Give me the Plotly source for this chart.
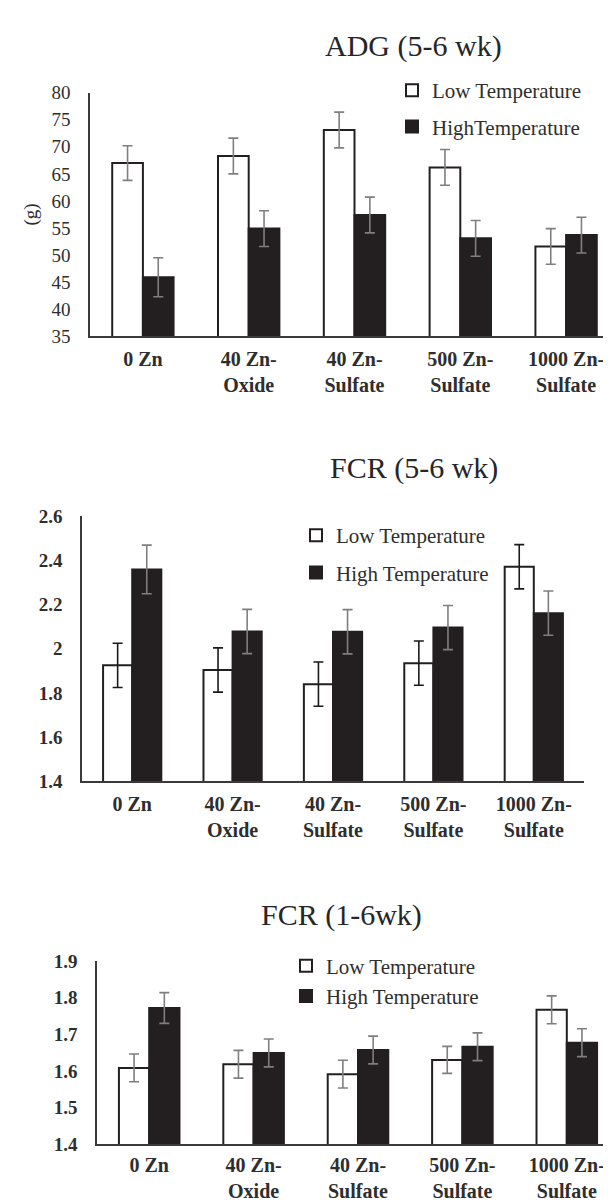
import plotly.graph_objects as go

W, H = 611, 1200

CATEGORIES = ["0 Zn", "40 Zn-Oxide", "40 Zn-Sulfate", "500 Zn-Sulfate", "1000 Zn-Sulfate"]
TICK_LABELS = ["0 Zn", "40 Zn-<br>Oxide", "40 Zn-<br>Sulfate", "500 Zn-<br>Sulfate", "1000 Zn-<br>Sulfate"]

# ADG (5-6 wk), g
ADG_LOW = [67.0, 68.3, 73.1, 66.2, 51.6]
ADG_LOW_ERR = [3.2, 3.3, 3.3, 3.3, 3.3]
ADG_HIGH = [45.9, 54.9, 57.4, 53.1, 53.7]
ADG_HIGH_ERR = [3.6, 3.3, 3.3, 3.3, 3.3]

# FCR (5-6 wk)
FCR56_LOW = [1.925, 1.904, 1.840, 1.935, 2.371]
FCR56_LOW_ERR = [0.10, 0.10, 0.10, 0.10, 0.10]
FCR56_HIGH = [2.359, 2.078, 2.077, 2.096, 2.161]
FCR56_HIGH_ERR = [0.11, 0.10, 0.10, 0.10, 0.10]

# FCR (1-6 wk)
FCR16_LOW = [1.608, 1.618, 1.591, 1.630, 1.767]
FCR16_LOW_ERR = [0.038, 0.038, 0.038, 0.037, 0.038]
FCR16_HIGH = [1.772, 1.649, 1.657, 1.666, 1.677]
FCR16_HIGH_ERR = [0.042, 0.038, 0.038, 0.038, 0.038]

SERIF = "Liberation Serif"
TXT = "#2e2e2e"
DARK = "#231f20"
GREY_ERR = "#7f7f7f"


def px_x(p):
    return p / W


def px_y(p):
    return 1 - p / H


fig = go.Figure()

charts = [
    dict(ax="", low=ADG_LOW, lerr=ADG_LOW_ERR, high=ADG_HIGH, herr=ADG_HIGH_ERR,
         low_name="Low Temperature", high_name="HighTemperature", legend="legend",
         lowerr_color=GREY_ERR),
    dict(ax="2", low=FCR56_LOW, lerr=FCR56_LOW_ERR, high=FCR56_HIGH, herr=FCR56_HIGH_ERR,
         low_name="Low Temperature", high_name="High Temperature", legend="legend2",
         lowerr_color="#1a1a1a"),
    dict(ax="3", low=FCR16_LOW, lerr=FCR16_LOW_ERR, high=FCR16_HIGH, herr=FCR16_HIGH_ERR,
         low_name="Low Temperature", high_name="High Temperature", legend="legend3",
         lowerr_color=GREY_ERR),
]

for i, c in enumerate(charts):
    fig.add_trace(go.Bar(
        x=CATEGORIES, y=c["low"], name=c["low_name"],
        xaxis="x" + c["ax"], yaxis="y" + c["ax"], legend=c["legend"],
        legendgroup="low%d" % i,
        marker=dict(color="white", line=dict(color=DARK, width=2)),
        error_y=dict(type="data", array=c["lerr"], visible=True,
                     color=c["lowerr_color"], thickness=1.6, width=5),
    ))
    fig.add_trace(go.Bar(
        x=CATEGORIES, y=c["high"], name=c["high_name"],
        xaxis="x" + c["ax"], yaxis="y" + c["ax"], legend=c["legend"],
        legendgroup="high%d" % i,
        marker=dict(color=DARK, line=dict(color=DARK, width=2)),
        error_y=dict(type="data", array=c["herr"], visible=True,
                     color=GREY_ERR, thickness=1.6, width=5),
    ))

xcommon = dict(
    type="category", showline=True, linecolor="#3a3a3a", linewidth=1.6,
    showgrid=False, zeroline=False, ticks="outside", ticklen=4,
    tickcolor="rgba(0,0,0,0)", tickvals=CATEGORIES, ticktext=TICK_LABELS,
    tickfont=dict(family=SERIF, size=20, color=TXT, weight="bold"),
    fixedrange=True,
)
ycommon = dict(
    showline=True, linecolor="#3a3a3a", linewidth=1.6, showgrid=False,
    zeroline=False, ticks="outside", ticklen=14, tickcolor="rgba(0,0,0,0)",
    fixedrange=True,
)

layout = dict(
    width=W, height=H, margin=dict(l=0, r=0, t=0, b=0),
    paper_bgcolor="white", plot_bgcolor="white",
    barmode="group", bargap=0.42, bargroupgap=0,
    font=dict(family=SERIF, color=TXT),
)

# Chart 1: ADG
layout["xaxis"] = dict(xcommon, domain=[px_x(82), 1], anchor="y")
layout["yaxis"] = dict(ycommon, domain=[px_y(324), px_y(76)], anchor="x",
                       range=[35, 80], dtick=5,
                       tickfont=dict(family=SERIF, size=19, color=TXT))
# Chart 2: FCR 5-6
layout["xaxis2"] = dict(xcommon, domain=[px_x(74), px_x(576)], anchor="y2")
layout["yaxis2"] = dict(ycommon, domain=[px_y(777), px_y(507)], anchor="x2",
                        range=[1.4, 2.6], dtick=0.2,
                        tickfont=dict(family=SERIF, size=19, color=TXT, weight="bold"))
# Chart 3: FCR 1-6
layout["xaxis3"] = dict(xcommon, domain=[px_x(89), 1], anchor="y3", ticklen=2)
layout["yaxis3"] = dict(ycommon, domain=[px_y(1146), px_y(960)], anchor="x3",
                        range=[1.4, 1.9], dtick=0.1,
                        tickfont=dict(family=SERIF, size=19, color=TXT, weight="bold"))

legfont = dict(family=SERIF, size=21, color=TXT)
layout["legend"] = dict(x=px_x(384), y=px_y(53), xanchor="left", yanchor="top",
                        font=legfont, bgcolor="rgba(0,0,0,0)", traceorder="grouped",
                        tracegroupgap=6)
layout["legend2"] = dict(x=px_x(288), y=px_y(506), xanchor="left", yanchor="top",
                         font=legfont, bgcolor="rgba(0,0,0,0)", traceorder="grouped",
                         tracegroupgap=7)
layout["legend3"] = dict(x=px_x(278), y=px_y(944), xanchor="left", yanchor="top",
                         font=legfont, bgcolor="rgba(0,0,0,0)", traceorder="normal")

fig.update_layout(**layout)

titles = [("ADG (5-6 wk)", 405, 28), ("FCR (5-6 wk)", 406, 458), ("FCR (1-6wk)", 333, 913)]
for t, x, y in titles:
    fig.add_annotation(text=t, x=px_x(x), y=px_y(y), xref="paper", yref="paper",
                       xanchor="center", yanchor="middle", showarrow=False,
                       font=dict(family=SERIF, size=30, color="#262626"))

fig.add_annotation(text="(g)", x=px_x(23), y=px_y(200), xref="paper", yref="paper",
                   xanchor="center", yanchor="middle", showarrow=False, textangle=-90,
                   font=dict(family=SERIF, size=19, color=TXT))

fig.write_html("out.html", config={"displayModeBar": False})
